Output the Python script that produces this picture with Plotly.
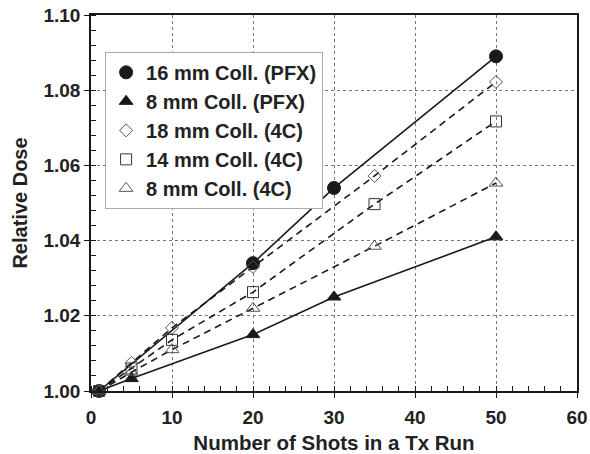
import plotly.graph_objects as go

x_16pfx = [1, 20, 30, 50]
y_16pfx = [1.000, 1.034, 1.054, 1.089]
x_8pfx = [1, 5, 20, 30, 50]
y_8pfx = [1.000, 1.0033, 1.015, 1.025, 1.041]
x_18c = [1, 5, 10, 20, 35, 50]
y_18c = [1.000, 1.0075, 1.0168, 1.033, 1.0572, 1.0822]
x_14c = [1, 5, 10, 20, 35, 50]
y_14c = [1.000, 1.006, 1.0136, 1.0263, 1.0497, 1.0717]
x_8c = [1, 5, 10, 20, 35, 50]
y_8c = [1.000, 1.005, 1.011, 1.022, 1.0385, 1.0553]

names = ["16 mm Coll. (PFX)", "8 mm Coll. (PFX)", "18 mm Coll. (4C)",
         "14 mm Coll. (4C)", "8 mm Coll. (4C)"]

BLK = "#1a1a1a"
GRY = "#555555"
FONT = "Liberation Sans, Arial"

fig = go.Figure()
series = [
    (x_16pfx, y_16pfx, "circle", BLK, "solid", 13),
    (x_8pfx, y_8pfx, "triangle-up", BLK, "solid", 12),
    (x_18c, y_18c, "diamond-open", GRY, "7px,5px", 10),
    (x_14c, y_14c, "square-open", "#333333", "7px,5px", 11),
    (x_8c, y_8c, "triangle-up-open", GRY, "7px,5px", 12),
]
for i, (xs, ys, sym, col, dash, sz) in enumerate(series):
    fig.add_trace(go.Scatter(
        x=xs, y=ys, mode="lines+markers", showlegend=False,
        line=dict(color=BLK, width=1.6, dash=dash),
        marker=dict(symbol=sym, size=sz, color=col, line=dict(color=col, width=1)),
        cliponaxis=False,
    ))
# legend entries (marker only, as in the reference)
for i, (xs, ys, sym, col, dash, sz) in enumerate(series):
    fig.add_trace(go.Scatter(
        x=[None], y=[None], mode="markers", name="<b>" + names[i] + "</b>",
        marker=dict(symbol=sym, size=sz, color=col, line=dict(color=col, width=1)),
    ))

fig.update_layout(
    width=590, height=454,
    margin=dict(l=91, r=13, t=15, b=63),
    paper_bgcolor="white", plot_bgcolor="white",
    font=dict(family=FONT, color="#222222"),
    showlegend=True,
    legend=dict(
        x=0.029, y=0.902, xanchor="left", yanchor="top",
        bordercolor="#aaaaaa", borderwidth=1, bgcolor="white",
        font=dict(family=FONT, size=20, color="#222222"),
        traceorder="normal",
        itemwidth=30,
    ),
    xaxis=dict(
        range=[0, 60], dtick=10, tick0=0, automargin=False,
        showline=True, linecolor=BLK, linewidth=1.5, mirror=True,
        ticks="outside", ticklen=5, tickcolor=BLK, ticklabelstandoff=3,
        minor=dict(dtick=2, ticks="inside", ticklen=5, tickcolor=BLK, showgrid=False),
        showgrid=True, gridcolor="#777777", griddash="dot", gridwidth=1,
        zeroline=False,
        tickfont=dict(family=FONT, size=19, color="#222222", weight="bold"),
        title=dict(text="<b>Number of Shots in a Tx Run</b>",
                   font=dict(family=FONT, size=20.5, color="#222222"),
                   standoff=10),
    ),
    yaxis=dict(
        range=[1.0, 1.1], dtick=0.02, tick0=1.0, tickformat=".2f", automargin=False,
        showline=True, linecolor=BLK, linewidth=1.5, mirror=True,
        ticks="outside", ticklen=5, tickcolor=BLK,
        minor=dict(dtick=0.004, ticks="inside", ticklen=5, tickcolor=BLK, showgrid=False),
        showgrid=True, gridcolor="#777777", griddash="dot", gridwidth=1,
        zeroline=False,
        tickfont=dict(family=FONT, size=19, color="#222222", weight="bold"),
        title=dict(text="<b>Relative Dose</b>",
                   font=dict(family=FONT, size=20, color="#222222"),
                   standoff=10),
    ),
)

fig.write_html("out.html", config={"displayModeBar": False},
               post_script="document.body.style.margin='0';")
